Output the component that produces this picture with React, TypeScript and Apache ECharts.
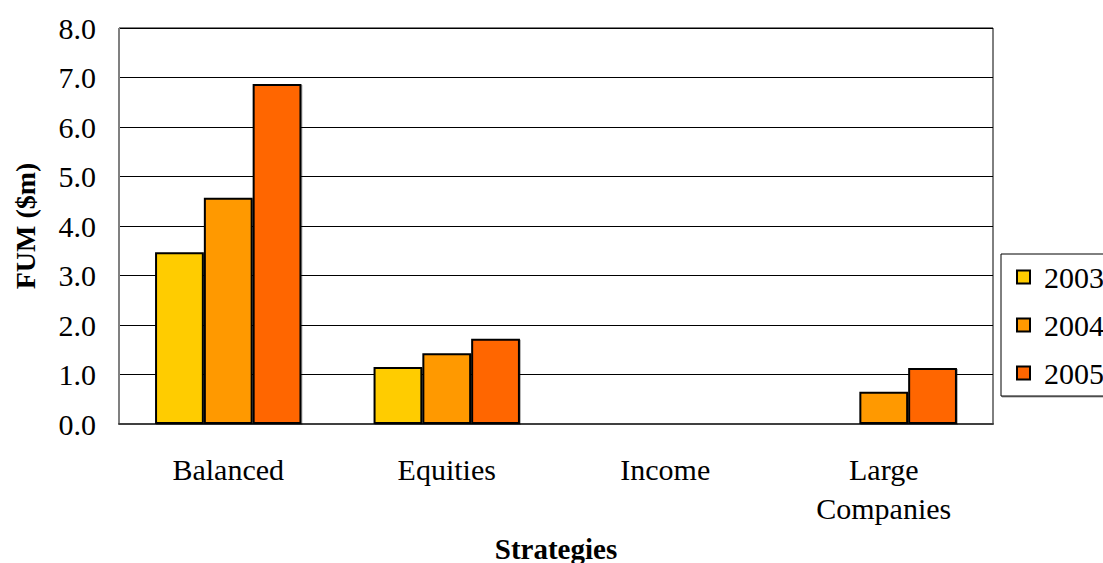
import React, { useEffect, useRef } from "react";
import * as echarts from "echarts";

const categories = ["Balanced", "Equities", "Income", "Large\nCompanies"];
const years = ["2003", "2004", "2005"];
const values2003 = [3.47, 1.15, null, null];
const values2004 = [4.57, 1.43, null, 0.65];
const values2005 = [6.87, 1.72, null, 1.13];
const colors = ["#FFCC00", "#FF9900", "#FF6600"];
const yTicks = { min: 0, max: 8, interval: 1 };

export default function App() {
  const ref = useRef<HTMLDivElement>(null);
  useEffect(() => {
    if (!ref.current) return;
    const chart = echarts.init(ref.current, undefined, { renderer: "svg" });
    const font = "Liberation Serif, Times New Roman, serif";
    const seriesData = [values2003, values2004, values2005];
    chart.setOption({
      animation: false,
      textStyle: { fontFamily: font },
      grid: {
        left: 119,
        top: 28,
        width: 874,
        height: 396,
        show: true,
        borderColor: "#000",
        borderWidth: 1,
        backgroundColor: "#fff",
        containLabel: false,
        outerBoundsMode: "none",
      },
      legend: {
        orient: "vertical",
        left: 1001,
        top: 254,
        padding: [8, 14, 8, 15],
        itemGap: 18,
        itemWidth: 13,
        itemHeight: 13,
        borderColor: "#000",
        borderWidth: 1,
        backgroundColor: "#fff",
        shadowColor: "rgba(0,0,0,0.4)",
        shadowOffsetX: 1,
        shadowOffsetY: 1,
        shadowBlur: 0,
        icon: "rect",
        itemStyle: { borderColor: "#000", borderWidth: 2 },
        textStyle: {
          fontSize: 30,
          lineHeight: 30,
          color: "#000",
          fontFamily: font,
          padding: [0, 0, 0, 9],
        },
        data: years,
      },
      xAxis: {
        type: "category",
        data: categories,
        name: "Strategies",
        nameLocation: "middle",
        nameGap: 110,
        nameTextStyle: { fontSize: 29, fontWeight: "bold", color: "#000", fontFamily: font },
        axisLine: { show: true, lineStyle: { color: "#404040", width: 2 } },
        axisTick: { show: false },
        axisLabel: {
          fontSize: 30,
          color: "#000",
          margin: 26,
          lineHeight: 39,
          fontFamily: font,
        },
      },
      yAxis: {
        type: "value",
        min: yTicks.min,
        max: yTicks.max,
        interval: yTicks.interval,
        name: "FUM ($m)",
        nameLocation: "middle",
        nameGap: 80,
        nameRotate: 90,
        nameTextStyle: { fontSize: 28, fontWeight: "bold", color: "#000", fontFamily: font },
        axisLine: { show: true, lineStyle: { color: "#808080", width: 1 } },
        axisTick: { show: false },
        axisLabel: {
          fontSize: 30,
          color: "#000",
          margin: 23,
          fontFamily: font,
          formatter: (v: number) => v.toFixed(1),
        },
        splitLine: { show: true, lineStyle: { color: "#000", width: 1 } },
      },
      series: years.map((y, i) => ({
        name: y,
        type: "bar",
        data: seriesData[i],
        barGap: "0%",
        barCategoryGap: "33%",
        itemStyle: {
          color: colors[i],
          borderColor: "#000",
          borderWidth: 2,
          shadowColor: "rgba(0,0,0,0.3)",
          shadowOffsetX: 1,
          shadowOffsetY: 1,
        },
      })),
    });
    return () => chart.dispose();
  }, []);
  return <div ref={ref} style={{ width: 1103, height: 563, position: "absolute", left: 0, top: 0 }} />;
}
